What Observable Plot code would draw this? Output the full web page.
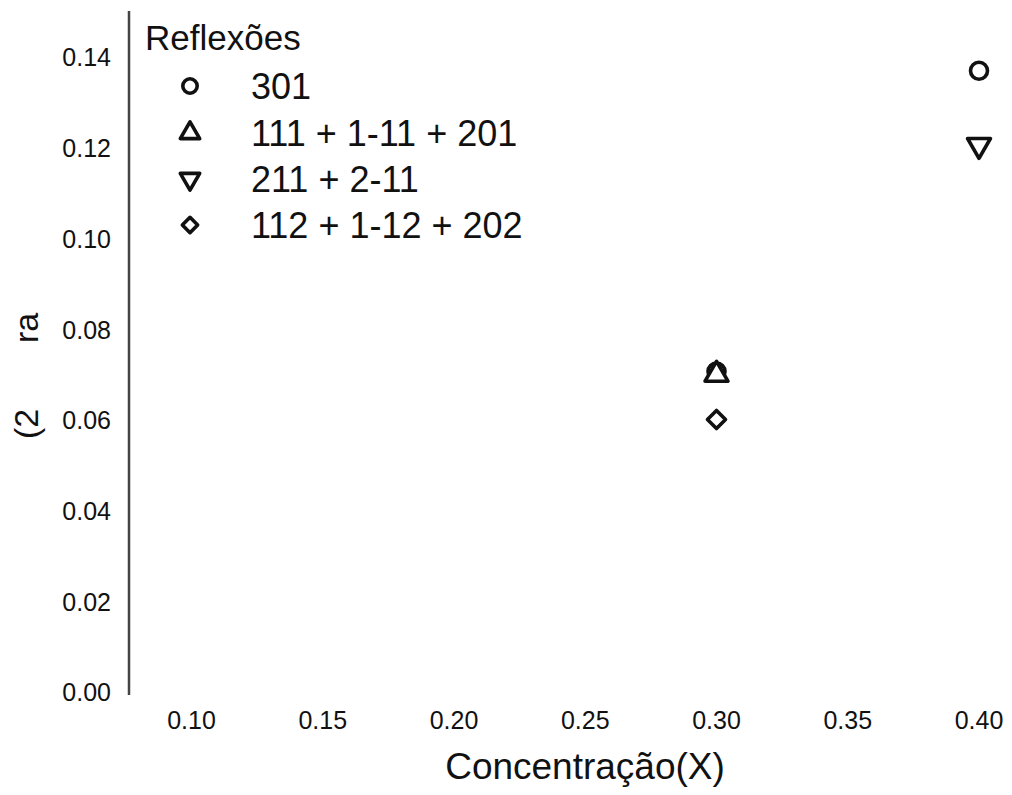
<!DOCTYPE html>
<html>
<head>
<meta charset="utf-8">
<script src="https://cdn.jsdelivr.net/npm/d3@7"></script>
<script src="https://cdn.jsdelivr.net/npm/@observablehq/plot@0.6"></script>
<style>
  html, body { margin: 0; padding: 0; background: #fff; }
  #chart { position: relative; width: 1012px; height: 795px; }
</style>
</head>
<body>
<div id="chart"></div>
<script>
// Reflection series shown in the legend
const seriesNames = ["301", "111 + 1-11 + 201", "211 + 2-11", "112 + 1-12 + 202"];

// Measured points: concentration X and peak width for each reflection group
const concentracao = [0.30, 0.40, 0.30, 0.40, 0.30];
const serie = ["301", "301", "111 + 1-11 + 201", "211 + 2-11", "112 + 1-12 + 202"];
const largura = [0.0710, 0.1373, 0.0703, 0.1209, 0.0604];

// Axis ticks
const xTicks = [0.10, 0.15, 0.20, 0.25, 0.30, 0.35, 0.40];
const yTicks = [0.00, 0.02, 0.04, 0.06, 0.08, 0.10, 0.12, 0.14];

// Axis titles
const xTitle = "Concentração(X)";
const yTitleParts = ["(2", "ra"];
const legendTitle = "Reflexões";

const data = concentracao.map((x, i) => ({x, y: largura[i], serie: serie[i]}));

// Downward-pointing triangle (d3's triangle flipped)
const triangleDown = {
  draw(context, size) {
    const y = -Math.sqrt(size / (Math.sqrt(3) * 3));
    context.moveTo(0, -y * 2);
    context.lineTo(-Math.sqrt(3) * y, y);
    context.lineTo(Math.sqrt(3) * y, y);
    context.closePath();
  }
};
// Square diamond, a little larger than d3's diamond2
const diamondWide = {
  draw(context, size) {
    const r = Math.sqrt(size) * 0.6;
    context.moveTo(0, -r);
    context.lineTo(r, 0);
    context.lineTo(0, r);
    context.lineTo(-r, 0);
    context.closePath();
  }
};
const symbolRange = [d3.symbolCircle, d3.symbolTriangle, triangleDown, diamondWide];

const FONT = "'Liberation Sans', Arial, Helvetica, sans-serif";
const INK = "#111";

const chart = Plot.plot({
  width: 1012,
  height: 795,
  marginLeft: 128.5,
  marginRight: 12,
  marginTop: 11,
  marginBottom: 100,
  style: {fontFamily: FONT, color: INK, background: "#fff"},
  x: {domain: [0.07619, 0.40819], axis: null},
  y: {domain: [-0.000441, 0.15035], axis: null},
  symbol: {domain: seriesNames, range: symbolRange},
  marks: [
    Plot.axisX({ticks: xTicks, tickSize: 0, tickPadding: 16, fontSize: 25,
      tickFormat: d3.format(".2f"), label: null, fill: INK}),
    Plot.axisY({ticks: yTicks, tickSize: 0, tickPadding: 18, fontSize: 25,
      tickFormat: d3.format(".2f"), label: null, fill: INK}),
    Plot.ruleX([0.07619], {stroke: "#444", strokeWidth: 2.5}),
    Plot.dot(data, {x: "x", y: "y", symbol: "serie", r: 8.5,
      stroke: INK, strokeWidth: 3.6, strokeLinejoin: "round", fill: "white"})
  ]
});

document.getElementById("chart").appendChild(chart);

const svg = d3.select(chart);

// Legend in the upper-left corner of the plotting area
const legend = svg.append("g")
  .attr("font-family", FONT).attr("fill", INK).attr("text-anchor", "start");
legend.append("text")
  .attr("x", 145).attr("y", 38).attr("dy", "0.35em")
  .attr("font-size", 35)
  .text(legendTitle);
const rowY = [86, 133, 179, 225];
seriesNames.forEach((name, i) => {
  legend.append("path")
    .attr("transform", `translate(190,${rowY[i]})`)
    .attr("d", d3.symbol(symbolRange[i], Math.PI * 7.2 * 7.2)())
    .attr("fill", "white").attr("stroke", INK).attr("stroke-width", 3.6)
    .attr("stroke-linejoin", "round");
  legend.append("text")
    .attr("x", 251).attr("y", rowY[i]).attr("dy", "0.35em")
    .attr("font-size", 36)
    .text(name);
});

// Axis titles
svg.append("text")
  .attr("x", 585).attr("y", 766).attr("dy", "0.35em")
  .attr("text-anchor", "middle")
  .attr("font-family", FONT).attr("font-size", 37).attr("fill", INK)
  .text(xTitle);

const yTitleCenters = [424, 328];
yTitleParts.forEach((t, i) => {
  svg.append("text")
    .attr("transform", `translate(38,${yTitleCenters[i]}) rotate(-90)`)
    .attr("text-anchor", "middle")
    .attr("font-family", FONT).attr("font-size", 34).attr("fill", INK)
    .text(t);
});
</script>
</body>
</html>
